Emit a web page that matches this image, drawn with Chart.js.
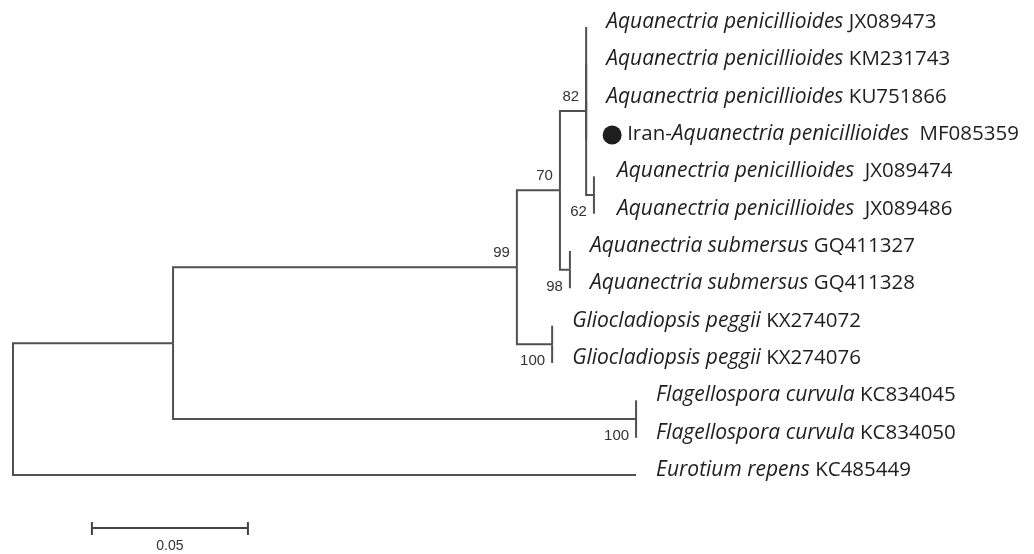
<!DOCTYPE html>
<html>
<head>
<meta charset="utf-8">
<script src="https://cdn.jsdelivr.net/npm/chart.js@4"></script>
<style>
  html, body { margin: 0; padding: 0; background: #fff; }
  canvas { display: block; }
</style>
</head>
<body>
<canvas id="arvore" width="1034" height="554"></canvas>
<script>
// tips, top to bottom
const leafPrefix = ["", "", "", "Iran-", "", "", "", "", "", "", "", "", ""];
const leafSpecies = [
  "Aquanectria penicillioides", "Aquanectria penicillioides", "Aquanectria penicillioides",
  "Aquanectria penicillioides", "Aquanectria penicillioides", "Aquanectria penicillioides",
  "Aquanectria submersus", "Aquanectria submersus",
  "Gliocladiopsis peggii", "Gliocladiopsis peggii",
  "Flagellospora curvula", "Flagellospora curvula",
  "Eurotium repens"
];
const leafAccession = [
  "JX089473", "KM231743", "KU751866", "MF085359", "JX089474", "JX089486",
  "GQ411327", "GQ411328", "KX274072", "KX274076", "KC834045", "KC834050", "KC485449"
];
const markedLeaf = 3;

// tree edges (parent -> child, branch length in substitutions/site)
const edgeParent = ["root", "root", "n1", "n1", "n99", "n99", "n70", "n70",
  "n82", "n82", "n82", "n82", "n82", "n62", "n62", "n98", "n98", "nGlio", "nGlio", "nFlag", "nFlag"];
const edgeChild = ["n1", "L12", "n99", "nFlag", "n70", "nGlio", "n82", "n98",
  "L0", "L1", "L2", "L3", "n62", "L4", "L5", "L6", "L7", "L8", "L9", "L10", "L11"];
const branchLength = [0.0513, 0.1997, 0.1102, 0.1484, 0.0138, 0.0113, 0.0084, 0.0032,
  0, 0, 0, 0, 0.0025, 0, 0, 0, 0, 0, 0, 0, 0];

// bootstrap support
const bootNode = ["n82", "n70", "n99", "n62", "n98", "nGlio", "nFlag"];
const bootValue = [82, 70, 99, 62, 98, 100, 100];

const scaleBarLength = 0.05;

// --- layout of the tree from the arrays above
const depth = { root: 0 };
edgeChild.forEach((c, i) => { depth[c] = depth[edgeParent[i]] + branchLength[i]; });

function nodeY(n) {
  if (n[0] === "L") return +n.slice(1);
  const ys = edgeChild.filter((c, i) => edgeParent[i] === n).map(nodeY);
  return (Math.min(...ys) + Math.max(...ys)) / 2;
}

const corTraco = "#505050";
const datasets = edgeChild.map((c, i) => {
  const p = edgeParent[i];
  return {
    data: [
      { x: depth[p], y: nodeY(p) },
      { x: depth[p], y: nodeY(c) },
      { x: depth[c], y: nodeY(c) }
    ],
    showLine: true,
    borderColor: corTraco,
    borderWidth: 2,
    pointRadius: 0,
    tension: 0,
    clip: false
  };
});

const fonte = "20.5px 'Open Sans'";
const fonteIt = "italic 21px 'Open Sans'";

const rotulos = {
  id: "rotulos",
  afterDraw(chart) {
    const ctx = chart.ctx;
    const xs = chart.scales.x, ys = chart.scales.y;
    ctx.save();
    ctx.textBaseline = "middle";

    // tip labels
    leafSpecies.forEach((sp, i) => {
      let x = xs.getPixelForValue(depth["L" + i]) + 20;
      const y = ys.getPixelForValue(i) - 5;
      ctx.fillStyle = "#1e1e1e";
      if (i === markedLeaf) {
        ctx.beginPath();
        ctx.arc(x + 6, y + 1, 9.5, 0, Math.PI * 2);
        ctx.fill();
        x += 21;
      }
      if (i === 4 || i === 5) x += 3;
      ctx.font = fonte;
      if (leafPrefix[i]) {
        ctx.fillText(leafPrefix[i], x, y);
        x += ctx.measureText(leafPrefix[i]).width;
      }
      ctx.font = fonteIt;
      ctx.fillText(sp, x, y);
      x += ctx.measureText(sp + " ").width;
      ctx.font = fonte;
      if (i >= 3 && i <= 5) x += 5;
      ctx.fillText(leafAccession[i], x, y);
    });

    // bootstrap values
    ctx.font = "15px 'Liberation Sans'";
    ctx.fillStyle = "#333";
    ctx.textAlign = "right";
    bootNode.forEach((n, i) => {
      const px = xs.getPixelForValue(depth[n]) - 7;
      const py = ys.getPixelForValue(nodeY(n)) + (i < 3 ? -14 : 17);
      ctx.fillText(bootValue[i], px, py);
    });

    // scale bar
    const x0 = xs.getPixelForValue(0.0253);
    const x1 = xs.getPixelForValue(0.0253 + scaleBarLength);
    const yb = chart.chartArea.bottom + 53;
    ctx.strokeStyle = "#444";
    ctx.lineWidth = 2;
    ctx.beginPath();
    ctx.moveTo(x0, yb); ctx.lineTo(x1, yb);
    ctx.moveTo(x0, yb - 6); ctx.lineTo(x0, yb + 7);
    ctx.moveTo(x1, yb - 6); ctx.lineTo(x1, yb + 7);
    ctx.stroke();
    ctx.textAlign = "center";
    ctx.fillStyle = "#333";
    ctx.font = "14px 'Liberation Sans'";
    ctx.fillText(scaleBarLength.toFixed(2), (x0 + x1) / 2, yb + 18);
    ctx.restore();
  }
};

new Chart(document.getElementById("arvore").getContext("2d"), {
  type: "scatter",
  data: { datasets },
  options: {
    responsive: false,
    animation: false,
    layout: { padding: { left: 13, right: 85, top: 27, bottom: 79 } },
    scales: {
      x: { type: "linear", min: 0, max: 0.3, display: false },
      y: { type: "linear", min: 0, max: 12, reverse: true, display: false }
    },
    plugins: { legend: { display: false }, tooltip: { enabled: false } }
  },
  plugins: [rotulos]
});
</script>
</body>
</html>
